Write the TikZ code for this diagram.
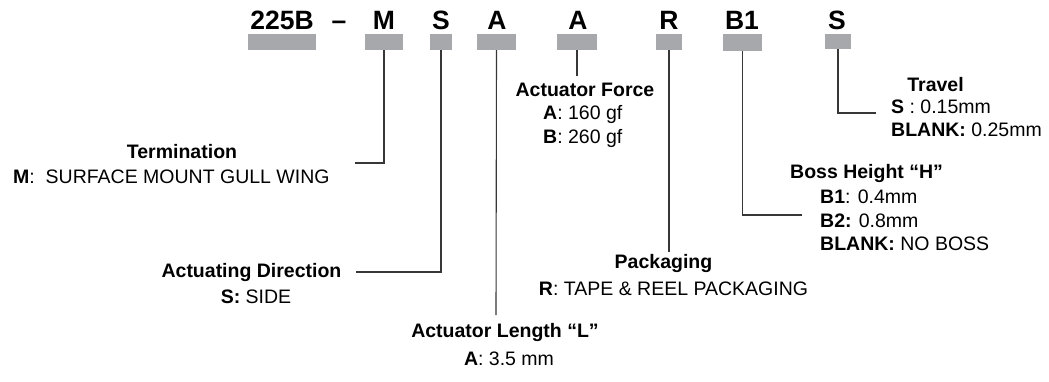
\documentclass[tikz,border=0pt]{standalone}
\usepackage{fontspec}
\setmainfont{Liberation Sans}
\definecolor{boxgray}{RGB}{167,168,172}
\definecolor{linegray}{RGB}{55,55,55}
\begin{document}
\begin{tikzpicture}[x=1pt,y=-1pt,
  codebox/.style={fill=boxgray,draw=none},
  code/.style={inner sep=0pt,anchor=base,font=\fontsize{26.5}{30}\selectfont\bfseries},
  head/.style={inner sep=0pt,anchor=base,font=\fontsize{19.5}{23}\selectfont\bfseries},
  txt/.style={inner sep=0pt,anchor=base,font=\fontsize{19.5}{23}\selectfont},
  txtl/.style={inner sep=0pt,anchor=base west,font=\fontsize{19.5}{23}\selectfont},
  conn/.style={draw=linegray,line width=1.1pt}]
\useasboundingbox (0,0) rectangle (1049,381);
% code letters
\node[code] (c225) at (282,29) {225B};
\node[code] (cdash) at (339,29) {–};
\node[code] (cM) at (384,29) {M};
\node[code] (cS) at (441,29) {S};
\node[code] (cA) at (497,29) {A};
\node[code] (cA2) at (578,29) {A};
\node[code] (cR) at (669,29) {R};
\node[code] (cB) at (742,29) {B1};
\node[code] (cS2) at (837,29) {S};
% boxes
\path[codebox] (248,34) rectangle (316,50);
\node[codebox,minimum width=38pt,minimum height=16pt,inner sep=0pt] (bM) at (384,42) {};
\node[codebox,minimum width=22pt,minimum height=16pt,inner sep=0pt] (bS) at (441,42) {};
\node[codebox,minimum width=39pt,minimum height=16pt,inner sep=0pt] (bA) at (496.5,42) {};
\node[codebox,minimum width=40pt,minimum height=16pt,inner sep=0pt] (bA2) at (577,42) {};
\node[codebox,minimum width=26pt,minimum height=16pt,inner sep=0pt] (bR) at (669,42) {};
\node[codebox,minimum width=39pt,minimum height=17pt,inner sep=0pt] (bB) at (742.5,42.5) {};
\node[codebox,minimum width=26pt,minimum height=15pt,inner sep=0pt] (bS2) at (838,41.5) {};
% labels
\node[head] (tTerm) at (182,158) {Termination};
\node[txtl] (tTerm1) at (13,183) {\textbf{M}:\ \ SURFACE MOUNT GULL WING};
\node[head] (tDir) at (251.5,277) {Actuating Direction};
\node[txt] (tDir1) at (256,303) {\textbf{S:} SIDE};
\node[head] (tForce) at (585,96) {Actuator Force};
\node[txtl] (tForce1) at (543,119) {\textbf{A}: 160 gf};
\node[txtl] (tForce2) at (543,143) {\textbf{B}: 260 gf};
\node[head] (tPack) at (663.5,268) {Packaging};
\node[txt] (tPack1) at (673.5,295) {\textbf{R}: TAPE \& REEL PACKAGING};
\node[head] (tLen) at (505,337) {Actuator Length “L”};
\node[txt] (tLen1) at (509,365) {\textbf{A}: 3.5 mm};
\node[head] (tTrav) at (935.5,91) {Travel};
\node[txtl] (tTrav1) at (891,113) {\textbf{S} : 0.15mm};
\node[txtl] (tTrav2) at (891,136) {\textbf{BLANK:} 0.25mm};
\node[head,anchor=base west] (tBoss) at (790,178) {Boss Height “H”};
\node[txtl] (tBoss1) at (820,203) {\textbf{B1}: 0.4mm};
\node[txtl] (tBoss2) at (820,227) {\textbf{B2:} 0.8mm};
\node[txtl] (tBoss3) at (820,250) {\textbf{BLANK:} NO BOSS};
% connector ends
\coordinate (eM) at (355,163);
\coordinate (eS) at (356,272);
\coordinate (eA) at (496,315);
\coordinate (eA2) at (577,76);
\coordinate (eR) at (669,252);
\coordinate (eB) at (802,215);
\coordinate (eS2) at (876,113);
% connectors
\draw[conn] (bM.south) |- (eM);
\draw[conn] (bS.south) |- (eS);
\draw[conn] (bA.south) -- (eA);
\draw[conn] (bA2.south) -- (eA2);
\draw[conn] (bR.south) -- (eR);
\draw[conn] (bB.south) |- (eB);
\draw[conn] (bS2.south) |- (eS2);
\end{tikzpicture}
\end{document}
